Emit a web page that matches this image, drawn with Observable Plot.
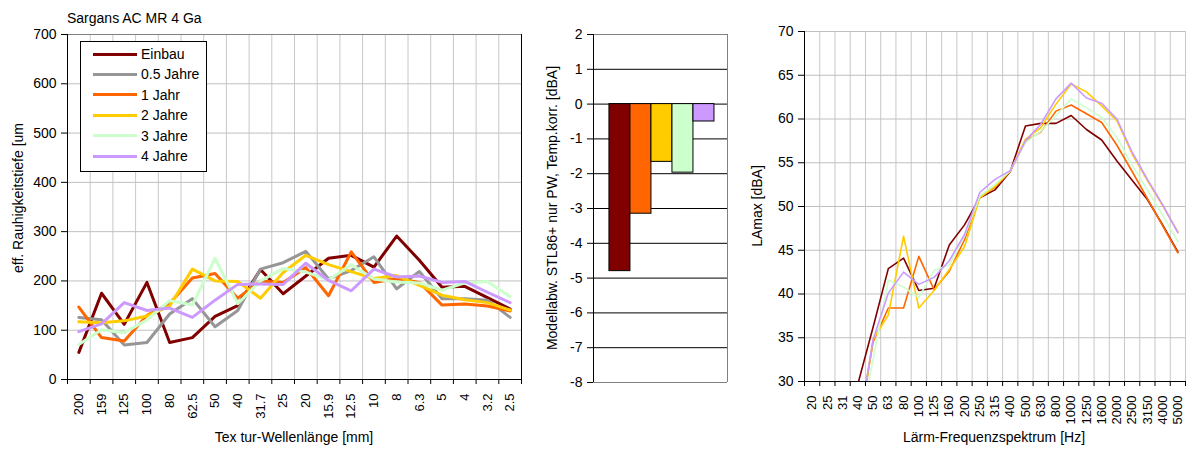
<!DOCTYPE html>
<html><head><meta charset="utf-8">
<script src="https://cdn.jsdelivr.net/npm/d3@7"></script>
<script src="https://cdn.jsdelivr.net/npm/@observablehq/plot@0.6"></script>
<style>
body{margin:0;background:#fff;font-family:"Liberation Sans",Arial,sans-serif;color:#000}
#wrap{position:relative;width:1187px;height:450px;overflow:hidden;background:#fff}
.panel{position:absolute;top:0}
.lbl{position:absolute;white-space:nowrap;font-size:14px;line-height:1}
.vlbl{transform:translate(-50%,-50%) rotate(-90deg)}
.hlbl{transform:translate(-50%,-50%)}
#legend{position:absolute;left:80px;top:41px;width:125px;height:129px;border:1px solid #000;background:#fff}
.lrow{position:absolute;left:12px;height:16px;display:flex;align-items:center;font-size:14px}
.lrow span.sw{display:inline-block;width:44px;height:3px;margin-right:4px}
</style></head><body><div id="wrap"></div><script>
// ---------- data ----------
const wavelengths = ["200","159","125","100","80","62.5","50","40","31.7","25","20","15.9","12.5","10","8","6.3","5","4","3.2","2.5"];
const seriesNames = ["Einbau","0.5 Jahre","1 Jahr","2 Jahre","3 Jahre","4 Jahre"];
const seriesColors = ["#800000","#969696","#FF6600","#FFCC00","#CCFFCC","#CC99FF"];
const texEinbau = [55,175,112,197,75,85,128,150,223,174,210,246,252,228,291,242,187,189,166,143];
const tex05     = [126,121,70,75,133,164,107,140,224,237,260,204,221,249,184,219,164,164,161,126];
const tex1      = [147,85,78,130,154,206,215,165,200,197,227,170,259,197,205,197,151,153,149,139];
const tex2      = [117,115,119,129,149,224,200,199,165,217,252,233,219,205,211,191,171,162,156,141];
const tex3      = [71,101,95,121,160,151,246,154,200,225,218,202,233,204,198,196,181,196,199,168];
const tex4      = [97,113,156,140,145,126,161,193,194,193,236,201,180,224,208,210,197,199,177,156];
const texYTicks = [0,100,200,300,400,500,600,700];

const barSeries = ["Einbau","1 Jahr","2 Jahre","3 Jahre","4 Jahre"];
const barValues = [-4.8,-3.15,-1.66,-1.97,-0.5];
const barYTicks = [-8,-7,-6,-5,-4,-3,-2,-1,0,1,2];

const freqs = ["20","25","31","40","50","63","80","100","125","160","200","250","315","400","500","630","800","1000","1250","1600","2000","2500","3150","4000","5000"];
const freqSeries = ["Einbau","1 Jahr","2 Jahre","3 Jahre","4 Jahre"];
const lEinbau = [null,null,null,29.7,36.2,42.9,44.1,40.4,40.65,45.6,47.9,51.0,51.9,54.0,59.2,59.5,59.5,60.4,58.8,57.6,55.2,53.0,50.8,47.9,44.8];
const l1      = [null,null,null,24,34.5,38.4,38.4,44.3,40.5,42.6,46.2,51.1,52.2,54.0,57.5,58.5,60.9,61.6,60.6,59.6,57.0,54.0,50.9,47.8,44.7];
const l2      = [null,null,null,23.5,34.8,37.6,46.6,38.4,40.4,42.8,45.4,51.0,52.3,54.1,57.7,59.0,61.7,64.0,63.1,61.5,59.8,56.0,53.0,50.1,47.1];
const l3      = [null,null,null,23.5,32.5,41.6,40.8,39.6,42.7,43.3,46.6,51.2,52.5,54.1,57.3,58.6,60.4,62.3,61.3,60.2,57.9,54.7,51.9,49.0,46.0];
const l4      = [null,null,null,24,34.8,40.1,42.5,41.1,41.9,43.8,46.8,51.6,53.1,54.1,57.5,59.4,62.3,64.1,62.4,61.8,60.0,56.2,53.1,50.2,47.0];
const freqYTicks = [30,35,40,45,50,55,60,65,70];

// ---------- helpers ----------
function longRows(cats, names, arrays){
  const rows = [];
  names.forEach((n,s)=>arrays[s].forEach((v,i)=>rows.push({i, cat:cats[i], series:n, value:v})));
  return rows;
}
function edges(spec){ // draws frame edge lines from plot dimensions
  return (index, scales, values, dims) => {
    const g = d3.create("svg:g");
    const L = dims.marginLeft, R = dims.width - dims.marginRight, T = dims.marginTop, B = dims.height - dims.marginBottom;
    const seg = {left:[L,T,L,B], right:[R,T,R,B], top:[L,T,R,T], bottom:[L,B,R,B]};
    for (const [side, color] of Object.entries(spec)) {
      const [x1,y1,x2,y2] = seg[side];
      g.append("line").attr("x1",x1).attr("y1",y1).attr("x2",x2).attr("y2",y2)
        .attr("stroke",color).attr("stroke-width",1).attr("shape-rendering","crispEdges");
    }
    return g.node();
  };
}
const baseStyle = {fontFamily:"'Liberation Sans', Arial, sans-serif", fontSize:"14px", color:"#000", background:"transparent", overflow:"visible"};
const wrap = document.getElementById("wrap");
function place(node, left){ const d = document.createElement("div"); d.className="panel"; d.style.left=left+"px"; d.appendChild(node); wrap.appendChild(d); }
function label(text, x, y, vertical){ const d=document.createElement("div"); d.className="lbl "+(vertical?"vlbl":"hlbl"); d.style.left=x+"px"; d.style.top=y+"px"; d.textContent=text; wrap.appendChild(d); }

// ---------- left chart ----------
const N = wavelengths.length;
const leftRows = longRows(wavelengths, seriesNames, [texEinbau, tex05, tex1, tex2, tex3, tex4]);
const left = Plot.plot({
  width: 530, height: 450,
  marginLeft: 67, marginRight: 9, marginTop: 34, marginBottom: 71,
  style: baseStyle,
  x: {domain: [-0.5, N - 0.5], axis: null},
  y: {domain: [0, 700], axis: null},
  color: {domain: seriesNames, range: seriesColors},
  marks: [
    Plot.ruleX(d3.range(N + 1), {x: i => i - 0.5, stroke: "#c8c8c8"}),
    Plot.ruleY(texYTicks.slice(1), {stroke: "#c0c0c0"}),
    edges({top:"#808080", right:"#000", left:"#000", bottom:"#000"}),
    Plot.axisY({ticks: texYTicks, tickSize: 6, tickPadding: 5, label: null, fontSize: 14, tickFormat: d => String(d)}),
    Plot.axisX({ticks: d3.range(N + 1).map(i => i - 0.5), tickFormat: () => "", tickSize: 5, label: null}),
    Plot.axisX({ticks: d3.range(N), tickFormat: i => wavelengths[i], tickRotate: -90, tickSize: 0, tickPadding: 14, label: null, fontSize: 13}),
    Plot.line(leftRows, {x: "i", y: "value", z: "series", stroke: "series", strokeWidth: 3})
  ]
});
place(left, 0);

// ---------- middle chart ----------
const barRows = barSeries.map((s, k) => ({series: s, value: barValues[k]}));
const mid = Plot.plot({
  width: 200, height: 450,
  marginLeft: 63, marginRight: 3, marginTop: 34, marginBottom: 68,
  style: baseStyle,
  x: {type: "band", domain: barSeries, paddingInner: 0, paddingOuter: 0.69, align: 0.55, round: false, axis: null},
  y: {domain: [-8, 2], axis: null},
  color: {domain: seriesNames, range: seriesColors},
  marks: [
    edges({top:"#808080", right:"#808080", bottom:"#808080"}),
    Plot.ruleY(barYTicks.slice(1, -1), {stroke: "#000"}),
    Plot.barY(barRows, {x: "series", y1: 0, y2: "value", fill: "series", stroke: "#000", strokeWidth: 1, inset: 0}),
    edges({left:"#000"}),
    Plot.axisY({ticks: barYTicks, tickSize: 6, tickPadding: 5, label: null, fontSize: 14, tickFormat: d => String(d)})
  ]
});
place(mid, 530);

// ---------- right chart ----------
const M = freqs.length;
const freqRows = longRows(freqs, freqSeries, [lEinbau, l1, l2, l3, l4]);
const right = Plot.plot({
  width: 452, height: 450,
  marginLeft: 69, marginRight: 2, marginTop: 31, marginBottom: 69,
  style: baseStyle,
  x: {domain: [-0.5, M - 0.5], axis: null},
  y: {domain: [30, 70], axis: null},
  color: {domain: seriesNames, range: seriesColors},
  marks: [
    Plot.ruleX(d3.range(M + 1), {x: i => i - 0.5, stroke: "#c8c8c8"}),
    Plot.ruleY(freqYTicks.slice(1), {stroke: "#c0c0c0"}),
    Plot.line(freqRows, {x: "i", y: "value", z: "series", stroke: "series", strokeWidth: 1.6, clip: true}),
    edges({left:"#000", bottom:"#000"}),
    Plot.axisY({ticks: freqYTicks, tickSize: 6, tickPadding: 5, label: null, fontSize: 14, tickFormat: d => String(d)}),
    Plot.axisX({ticks: d3.range(M + 1).map(i => i - 0.5), tickFormat: () => "", tickSize: 5, label: null}),
    Plot.axisX({ticks: d3.range(M), tickFormat: i => freqs[i], tickRotate: -90, tickSize: 0, tickPadding: 14, label: null, fontSize: 13})
  ]
});
place(right, 735);

// ---------- texts ----------
const title = document.createElement("div");
title.className = "lbl"; title.style.left = "67px"; title.style.top = "11px"; title.textContent = "Sargans AC MR 4 Ga";
wrap.appendChild(title);
label("eff. Rauhigkeitstiefe [um", 18, 198, true);
label("Tex tur-Wellenlänge [mm]", 294, 437, false);
label("Modellabw. STL86+ nur PW, Temp.korr. [dBA]", 552, 208, true);
label("LAmax [dBA]", 757, 206, true);
label("Lärm-Frequenzspektrum [Hz]", 994, 437, false);

// legend
const lg = document.createElement("div"); lg.id = "legend";
seriesNames.forEach((n, k) => {
  const r = document.createElement("div"); r.className = "lrow"; r.style.top = (4 + k * 20.4) + "px";
  const sw = document.createElement("span"); sw.className = "sw"; sw.style.background = seriesColors[k];
  const t = document.createElement("span"); t.textContent = n;
  r.appendChild(sw); r.appendChild(t); lg.appendChild(r);
});
wrap.appendChild(lg);
</script></body></html>
